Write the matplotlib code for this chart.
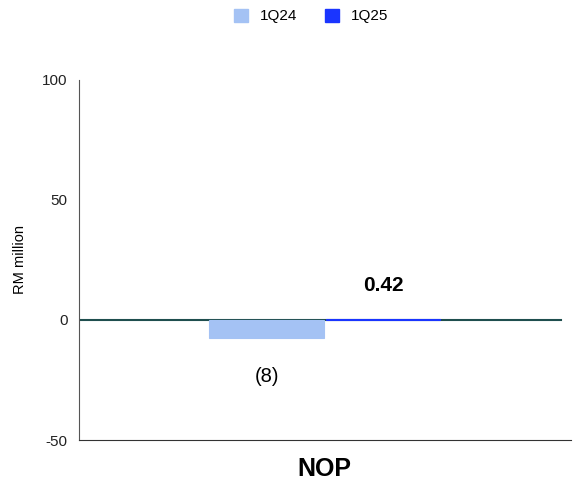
import matplotlib.pyplot as plt
import numpy as np
from matplotlib.patches import Patch

plt.rcParams['font.family'] = ['Liberation Sans', 'DejaVu Sans']
plt.rcParams['axes.unicode_minus'] = False

###Data###
category = ["NOP"]
series = ["1Q24", "1Q25"]
values = [-7.5, 0.42]
labels = ["(8)", "0.42"]
colors = ["#a4c2f4", "#1a35ff"]

fig = plt.figure(figsize=(5.76, 4.87), dpi=100)
ax = fig.add_axes([0.137, 0.0965, 0.854, 0.7395])

w = 0.237
x = np.array([0.0])
offsets = [-w / 2, w / 2]
ax.axhline(0, color="#1f4e4e", lw=1.5, xmin=0, xmax=0.98, zorder=1)
for i, (s, v, c) in enumerate(zip(series, values, colors)):
    ax.bar(x + offsets[i], [v], width=w - 0.004, color=c, edgecolor=c,
           linewidth=0.8, label=s, zorder=2)

# value labels
ax.text(offsets[0], -23.5, labels[0], ha="center", va="center", fontsize=14.5)
ax.text(offsets[1], 14.5, labels[1], ha="center", va="center", fontsize=15, fontweight="bold")

ax.set_xlim(-0.5, 0.5)
ax.set_ylim(-50, 100)
ax.set_yticks([-50, 0, 50, 100])
ax.set_xticks([0])
ax.set_xticklabels(category, fontsize=18, fontweight="bold")
ax.tick_params(axis="x", length=0, pad=12)
ax.tick_params(axis="y", length=0, labelsize=11, colors="#222222", pad=8)
ax.set_ylabel("RM million", fontsize=10.5, labelpad=11)
for sp in ["top", "right"]:
    ax.spines[sp].set_visible(False)
ax.spines["left"].set_color("#555555")
ax.spines["bottom"].set_color("#333333")

handles = [Patch(color=c, label=s) for s, c in zip(series, colors)]
fig.legend(handles=handles, loc="upper center", bbox_to_anchor=(0.54, 1.01), ncol=2,
           frameon=False, fontsize=11, handlelength=0.9, handleheight=0.9, columnspacing=1.8)

fig.savefig("out.png", dpi=100)
